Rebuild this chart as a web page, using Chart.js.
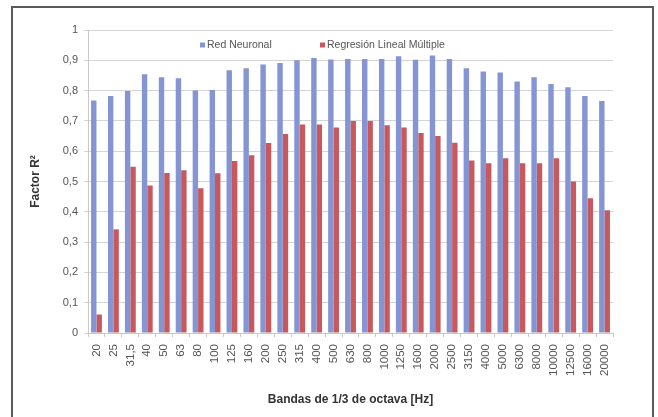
<!DOCTYPE html>
<html><head><meta charset="utf-8">
<script src="https://cdn.jsdelivr.net/npm/chart.js@4"></script>
<style>
html,body{margin:0;padding:0;background:#fff;width:658px;height:417px;overflow:hidden;}
#frame{position:absolute;left:11px;top:6px;width:643px;height:420px;border:2px solid #5a5a5a;box-sizing:border-box;}
#wrap{position:absolute;left:0;top:0;width:658px;height:417px;}
</style></head>
<body>
<div id="frame"></div>
<div id="wrap"><canvas id="c" width="658" height="417"></canvas></div>
<script>
const categories = ['20','25','31,5','40','50','63','80','100','125','160','200','250','315','400','500','630','800','1000','1250','1600','2000','2500','3150','4000','5000','6300','8000','10000','12500','16000','20000'];
const redNeuronal = [0.767,0.782,0.799,0.854,0.844,0.841,0.800,0.802,0.867,0.874,0.886,0.891,0.900,0.908,0.903,0.904,0.904,0.904,0.913,0.902,0.916,0.904,0.874,0.863,0.860,0.830,0.844,0.822,0.811,0.782,0.766];
const regresion = [0.061,0.342,0.549,0.487,0.528,0.537,0.478,0.527,0.568,0.587,0.627,0.657,0.688,0.688,0.678,0.700,0.700,0.686,0.678,0.660,0.650,0.628,0.569,0.560,0.577,0.560,0.560,0.577,0.500,0.445,0.405];
const seriesLabels = ['Red Neuronal','Regresión Lineal Múltiple'];
const yTicks = [0,0.1,0.2,0.3,0.4,0.5,0.6,0.7,0.8,0.9,1];

const blue = '#8595d4';
const red = '#c8585b';
const FONT = '"Liberation Sans", Arial, sans-serif';

const innerLegend = {
  id:'innerLegend',
  afterDraw(chart){
    const ctx = chart.ctx;
    ctx.save();
    ctx.font = '10.5px ' + FONT;
    ctx.textBaseline = 'middle';
    const y = 45;
    const items = [{x:200,c:blue,t:chart.data.datasets[0].label},{x:320,c:red,t:chart.data.datasets[1].label}];
    items.forEach(it=>{
      ctx.fillStyle = it.c;
      ctx.fillRect(it.x, y-2.5, 5, 5);
      ctx.fillStyle = '#555';
      ctx.fillText(it.t, it.x+7, y+0.5);
    });
    ctx.restore();
  }
};

new Chart(document.getElementById('c'), {
  type:'bar',
  data:{
    labels:categories,
    datasets:[
      {label:seriesLabels[0],data:redNeuronal,backgroundColor:blue,barPercentage:1,categoryPercentage:0.64},
      {label:seriesLabels[1],data:regresion,backgroundColor:red,barPercentage:1,categoryPercentage:0.64}
    ]
  },
  options:{
    responsive:false,
    animation:false,
    devicePixelRatio:1,
    layout:{padding:{left:28,right:45,top:30,bottom:10}},
    plugins:{legend:{display:false},tooltip:{enabled:false}},
    scales:{
      x:{
        grid:{display:true,drawOnChartArea:false,drawTicks:true,tickLength:4,offset:true,color:'#c8c8c8'},
        border:{display:true,color:'#c8c8c8'},
        ticks:{minRotation:90,maxRotation:90,autoSkip:false,padding:7,color:'#555',font:{size:11.5,family:FONT}},
        title:{display:true,text:'Bandas de 1/3 de octava [Hz]',color:'#333',font:{size:12,weight:'bold',family:FONT},padding:{top:8,bottom:0}},
        afterFit(s){s.height = 74;}
      },
      y:{
        min:0,max:1,
        afterBuildTicks(s){s.ticks = yTicks.map(v=>({value:v}));},
        grid:{color:'#d4d4d4',tickLength:4,drawTicks:true},
        border:{display:true,color:'#c8c8c8'},
        ticks:{padding:6,color:'#555',font:{size:11,family:FONT},
          callback:v=>String(Math.round(v*10)/10).replace('.',',')},
        title:{display:true,text:'Factor R²',color:'#333',font:{size:12,weight:'bold',family:FONT},padding:{top:0,bottom:8}},
        afterFit(s){s.width = 60;}
      }
    }
  },
  plugins:[innerLegend]
});
</script>
</body></html>
